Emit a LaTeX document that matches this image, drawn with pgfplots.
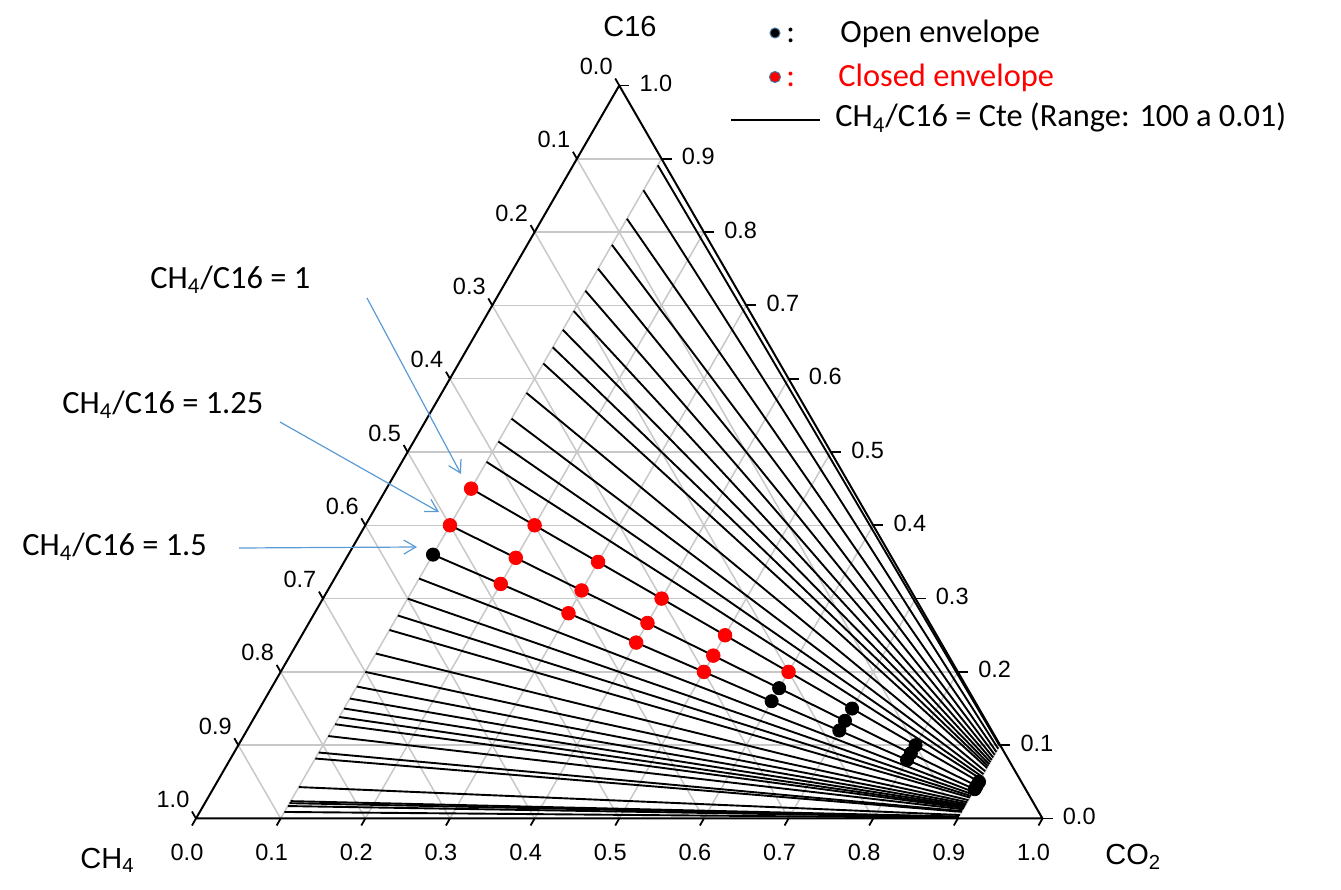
\documentclass[border=0pt]{standalone}
\usepackage{fontspec}
\setmainfont{Liberation Sans}
\newfontfamily\calibri{Carlito}
\usepackage{pgfplots}
\usepackage{pgfplotstable}
\pgfplotsset{compat=1.18}
\usetikzlibrary{arrows.meta}
\definecolor{gridgray}{RGB}{200,200,200}
\definecolor{arrowblue}{RGB}{91,155,213}
\definecolor{outlineblue}{RGB}{65,113,156}

% ternary data: t = CO2 fraction, c = C16 fraction
\pgfplotstableread{
t c
0.1 0.45
0.1 0.4
0.2 0.4
0.2 0.3556
0.2 0.32
0.3 0.35
0.3 0.3111
0.3 0.28
0.4 0.3
0.4 0.2667
0.4 0.24
0.5 0.25
0.5 0.2222
0.5 0.2
0.6 0.2
}\redpts
\pgfplotstableread{
t c
0.1 0.36
0.6 0.1778
0.6 0.16
0.7 0.15
0.7 0.1333
0.7 0.12
0.8 0.1
0.8 0.0889
0.8 0.08
0.9 0.05
0.9 0.0444
0.9 0.04
}\blackpts

\newcommand\ticksize{\fontsize{11.75}{14}\selectfont}
\newcommand\titlesize{\fontsize{14.5}{16}\selectfont}
\newcommand\calsize{\calibri\fontsize{16.2}{19}\selectfont}

\begin{document}
\begin{tikzpicture}
\useasboundingbox (-98pt,-35.75pt) rectangle (572.5pt,409.25pt);
\begin{axis}[
  scale only axis, width=423.25pt, height=366.5pt,
  xmin=0, xmax=1, ymin=0, ymax=0.866025,
  axis lines=none, clip=false,
]
% grid
\pgfplotsinvokeforeach{0.1,0.2,0.3,0.4,0.5,0.6,0.7,0.8,0.9}{
  \addplot[gridgray, line width=0.75pt] table[row sep=\\, x expr={\thisrow{u}*(1-#1)+#1/2}, y expr={0.866025*#1}] {u\\0\\1\\};
  \addplot[gridgray, line width=0.75pt] table[row sep=\\, x expr={#1+\thisrow{u}*(1-#1)/2}, y expr={0.866025*\thisrow{u}*(1-#1)}] {u\\0\\1\\};
  \addplot[gridgray, line width=0.75pt] table[row sep=\\, x expr={(1-#1)*(1-\thisrow{u}/2)}, y expr={0.866025*\thisrow{u}*(1-#1)}] {u\\0\\1\\};
}
% triangle
\addplot[black, line width=1pt, line join=round] coordinates {(0,0) (1,0) (0.5,0.866025) (0,0)};
% lines of constant CH4/C16 ratio, from CO2 = 0.1 to CO2 = 0.9
\pgfplotsinvokeforeach{0.01,0.05,0.1,0.15,0.2,0.25,0.3,0.35,0.4,0.45,0.55,0.65,0.75,0.85,1,1.25,1.5,1.75,2,2.25,2.5,3,3.5,4,4.5,5,5.5,6,7,9,10,20,37,42,52,100}{
  \addplot[black, line width=0.95pt] table[row sep=\\, x expr={\thisrow{t}+0.5*(1-\thisrow{t})/(1+#1)}, y expr={0.866025*(1-\thisrow{t})/(1+#1)}] {t\\0.1\\0.9\\};
}
% points
\addplot[only marks, mark=*, mark size=3.4pt, red, mark options={draw=red, fill=red}]
  table[x expr={\thisrow{t}+0.5*\thisrow{c}}, y expr={0.866025*\thisrow{c}}] {\redpts};
\addplot[only marks, mark=*, mark size=3.3pt, black, mark options={draw=black, fill=black}]
  table[x expr={\thisrow{t}+0.5*\thisrow{c}}, y expr={0.866025*\thisrow{c}}] {\blackpts};
\end{axis}

\begin{scope}[shift={(-98pt,409.25pt)}, x=0.5pt, y=-0.5pt]
  \foreach \j/\l/\r in {0/1.0/0.0,1/0.9/0.1,2/0.8/0.2,3/0.7/0.3,4/0.6/0.4,5/0.5/0.5,6/0.4/0.6,7/0.3/0.7,8/0.2/0.8,9/0.1/0.9,10/0.0/1.0}{
    \draw[line width=0.9pt] ({196+84.65*\j},818.5) -- ++(-4,7);
    \node[inner sep=0pt, font=\ticksize] at ({196+84.65*\j-9},852) {\r};
    \draw[line width=0.9pt] ({1042.5-42.325*\j},{818.5-73.3*\j}) -- ++(10,0);
    \node[inner sep=0pt, anchor=west, font=\ticksize] at ({1042.5-42.325*\j+20},{818.5-73.3*\j-2}) {\r};
    \draw[line width=0.9pt] ({196+42.325*\j},{818.5-73.3*\j}) -- ++(-4,-7);
    \node[inner sep=0pt, font=\ticksize] at ({196+42.325*\j-23},{818.5-73.3*\j-19}) {\l};
  }
  % axis titles
  \node[inner sep=0pt, font=\titlesize] at (630,27) {C16};
  \node[inner sep=0pt, anchor=base west, font=\titlesize] at (80,868) {CH\textsubscript{4}};
  \node[inner sep=0pt, anchor=base west, font=\titlesize] at (1105,865) {CO\textsubscript{2}};
  % legend
  \fill[black] (775,33) circle (5);
  \draw[outlineblue, line width=0.5pt] (775,33) circle (5);
  \node[inner sep=0pt, anchor=base west, font=\calsize] at (786,43) {:};
  \node[inner sep=0pt, anchor=base west, font=\calsize] at (840,43) {Open envelope};
  \fill[red] (775,77) circle (5.5);
  \draw[outlineblue, line width=0.5pt] (775,77) circle (5.5);
  \node[inner sep=0pt, anchor=base west, font=\calsize, text=red] at (786,87) {:};
  \node[inner sep=0pt, anchor=base west, font=\calsize, text=red] at (838,87) {Closed envelope};
  \draw[black, line width=0.6pt] (731,120) -- (820,120);
  \node[inner sep=0pt, anchor=base west, font=\calsize] at (835,127) {CH\textsubscript{4}/C16 = Cte (Range: 100 a 0.01)};
  % annotations
  \node[inner sep=0pt, anchor=base west, font=\calsize] at (150,288.5) {CH\textsubscript{4}/C16 = 1};
  \node[inner sep=0pt, anchor=base west, font=\calsize] at (62,413.5) {CH\textsubscript{4}/C16 = 1.25};
  \node[inner sep=0pt, anchor=base west, font=\calsize] at (22,555.5) {CH\textsubscript{4}/C16 = 1.5};
  \draw[arrowblue, line width=0.6pt, -{Straight Barb[length=6pt,width=7pt]}] (367,298) -- (461,474);
  \draw[arrowblue, line width=0.6pt, -{Straight Barb[length=6pt,width=7pt]}] (280,422) -- (439,512);
  \draw[arrowblue, line width=0.6pt, -{Straight Barb[length=6pt,width=7pt]}] (239,548) -- (417,547);
\end{scope}
\end{tikzpicture}
\end{document}
